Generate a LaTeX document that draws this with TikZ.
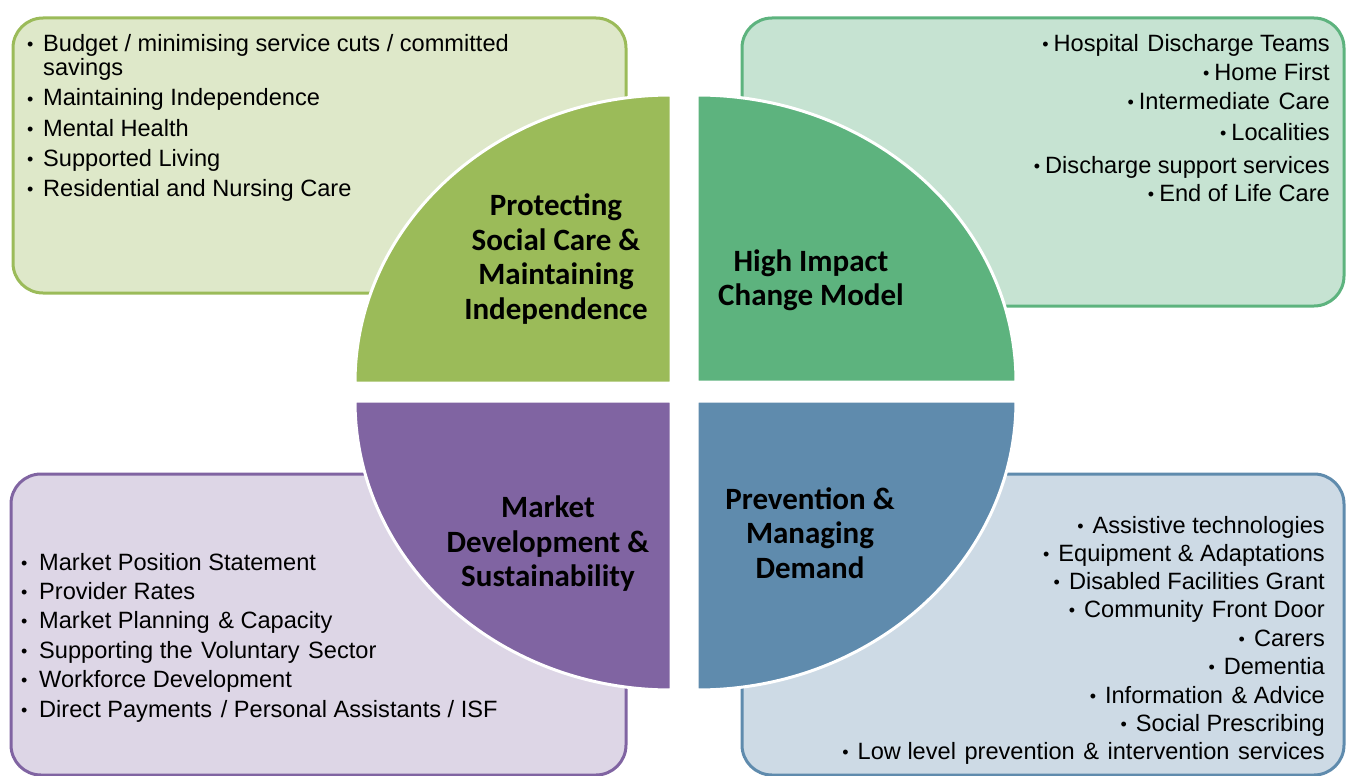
\documentclass[tikz,border=0pt]{standalone}
\usepackage{fontspec}
\setmainfont{Liberation Sans}
\newfontfamily\labelfont{Carlito}
\definecolor{gq}{HTML}{9BBB59}
\definecolor{gb}{HTML}{DEE8C9}
\definecolor{tq}{HTML}{5DB37E}
\definecolor{tb}{HTML}{C6E3D2}
\definecolor{pq}{HTML}{8064A2}
\definecolor{pb}{HTML}{DDD6E6}
\definecolor{bq}{HTML}{5F8BAD}
\definecolor{bb}{HTML}{CDDAE5}
\newcommand{\bul}{{\fontsize{18}{18}\selectfont\raisebox{1pt}{•}}}
\newcommand{\dsp}{\hspace{2pt}\space}
\tikzset{
  boxshape/.style={rounded corners=30pt, line width=3pt},
  quad/.style={draw=white, line width=3pt},
  itemL/.style={font=\fontsize{23.6}{27}\selectfont, inner sep=0pt, anchor=base west},
  itemR/.style={font=\fontsize{23.6}{27}\selectfont, inner sep=0pt, anchor=base east},
  lbl/.style={font=\labelfont\bfseries\fontsize{31}{34.5}\selectfont, align=center, inner sep=0pt}
}
\begin{document}
\begin{tikzpicture}[x=1pt,y=-1pt]
\useasboundingbox (0,0) rectangle (1350,776);
% boxes
\draw[boxshape, draw=gq, fill=gb] (13,18) rectangle (626,293);
\draw[boxshape, draw=tq, fill=tb] (742,18) rectangle (1344,306);
\draw[boxshape, draw=pq, fill=pb] (11,474) rectangle (626,775);
\draw[boxshape, draw=bq, fill=bb] (742,474) rectangle (1344,775);
% quadrants
\path[quad, fill=gq] (671,383) -- (355,383) arc[start angle=180, end angle=270, x radius=316, y radius=288] -- cycle;
\path[quad, fill=tq] (697,382) -- (697,95) arc[start angle=270, end angle=360, x radius=319, y radius=287] -- cycle;
\path[quad, fill=pq] (671,401) -- (671,690) arc[start angle=90, end angle=180, x radius=316, y radius=289] -- cycle;
\path[quad, fill=bq] (697,401) -- (1016,401) arc[start angle=0, end angle=90, x radius=319, y radius=289] -- cycle;
% labels
\node[lbl] (lg) at (556,259) {Protecting\\Social Care \&\\Maintaining\\Independence};
\node[lbl] (lt) at (811,280) {High Impact\\Change Model};
\node[lbl] (lp) at (548,544) {Market\\Development \&\\Sustainability};
\node[lbl] (lb) at (810,533) {Prevention \&\\Managing\\Demand};
% top-left items
\node[itemL] (g1) at (27,52) {\makebox[16pt][l]{\bul}Budget / minimising service cuts / committed};
\node[itemL] (g1b) at (43,76) {savings};
\node[itemL] (g2) at (27,106) {\makebox[16pt][l]{\bul}Maintaining Independence};
\node[itemL] (g3) at (27,136) {\makebox[16pt][l]{\bul}Mental Health};
\node[itemL] (g4) at (27,166) {\makebox[16pt][l]{\bul}Supported Living};
\node[itemL] (g5) at (27,196) {\makebox[16pt][l]{\bul}Residential and Nursing Care};
% top-right items
\node[itemR] (t1) at (1330,52) {\bul\hspace{5pt}Hospital\dsp Discharge Teams};
\node[itemR] (t2) at (1330,81) {\bul\hspace{5pt}Home First};
\node[itemR] (t3) at (1330,110) {\bul\hspace{5pt}Intermediate\dsp Care};
\node[itemR] (t4) at (1330,140) {\bul\hspace{5pt}Localities};
\node[itemR] (t5) at (1330,173) {\bul\hspace{5pt}Discharge support services};
\node[itemR] (t6) at (1330,201) {\bul\hspace{5pt}End of Life Care};
% bottom-left items
\node[itemL] (p1) at (21,570) {\makebox[18pt][l]{\bul}Market Position Statement};
\node[itemL] (p2) at (21,599) {\makebox[18pt][l]{\bul}Provider Rates};
\node[itemL] (p3) at (21,628) {\makebox[18pt][l]{\bul}Market Planning\dsp \& Capacity};
\node[itemL] (p4) at (21,658) {\makebox[18pt][l]{\bul}Supporting the\dsp Voluntary\dsp Sector};
\node[itemL] (p5) at (21,687) {\makebox[18pt][l]{\bul}Workforce Development};
\node[itemL] (p6) at (21,717) {\makebox[18pt][l]{\bul}Direct Payments\dsp / Personal Assistants / ISF};
% bottom-right items
\node[itemR] (b1) at (1325,533) {\bul\hspace{9pt}Assistive technologies};
\node[itemR] (b2) at (1325,561) {\bul\hspace{9pt}Equipment \& Adaptations};
\node[itemR] (b3) at (1325,589) {\bul\hspace{9pt}Disabled Facilities Grant};
\node[itemR] (b4) at (1325,617) {\bul\hspace{9pt}Community\dsp Front Door};
\node[itemR] (b5) at (1325,646) {\bul\hspace{9pt}Carers};
\node[itemR] (b6) at (1325,674) {\bul\hspace{9pt}Dementia};
\node[itemR] (b7) at (1325,703) {\bul\hspace{9pt}Information\dsp \& Advice};
\node[itemR] (b8) at (1325,731) {\bul\hspace{9pt}Social Prescribing};
\node[itemR] (b9) at (1325,759) {\bul\hspace{9pt}Low level\dsp prevention\dsp \&\dsp intervention\dsp services};
\end{tikzpicture}
\end{document}
